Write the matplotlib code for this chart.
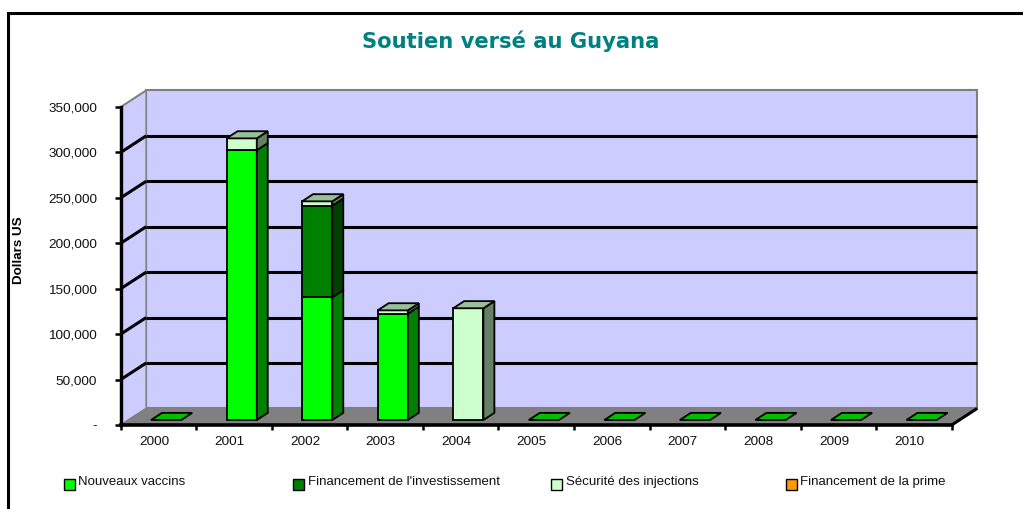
import matplotlib
matplotlib.use("Agg")
import matplotlib.pyplot as plt
from matplotlib.colors import to_rgb
from matplotlib.patches import Polygon, Rectangle
from matplotlib.transforms import Affine2D

plt.rcParams["font.family"] = ["Liberation Sans", "DejaVu Sans"]

years = ["2000", "2001", "2002", "2003", "2004", "2005", "2006", "2007", "2008", "2009", "2010"]
nouveaux_vaccins = [0, 297000, 135000, 117000, 0, 0, 0, 0, 0, 0, 0]
investissement = [0, 0, 101000, 0, 0, 0, 0, 0, 0, 0, 0]
securite_injections = [0, 13000, 4700, 3700, 123000, 0, 0, 0, 0, 0, 0]
prime = [0, 0, 0, 0, 0, 0, 0, 0, 0, 0, 0]
y_ticks = [0, 50000, 100000, 150000, 200000, 250000, 300000, 350000]
y_labels = ["-", "50,000", "100,000", "150,000", "200,000", "250,000", "300,000", "350,000"]
series = [
    ("Nouveaux vaccins", nouveaux_vaccins, "#00FF00", 64),
    ("Financement de l'investissement", investissement, "#008000", 293),
    ("Sécurité des injections", securite_injections, "#CCFFCC", 551),
    ("Financement de la prime", prime, "#FF9900", 786),
]

W, H = 1023, 509
DEPTH_X, DEPTH_Y = 25.5, 16.6
BAR_FRONT, BAR_BACK = 0.3, 0.73
BAR_WIDTH = 0.4
WALL = "#CCCCFF"
FLOOR = "#808080"
EDGE = "#808080"
TEXT = "#111111"
TICK_SIZE = 9.7

fig = plt.figure(figsize=(W / 100, H / 100), dpi=100)
ax = fig.add_axes([120.7 / W, (H - 425) / H, 831 / W, 318 / H])
ax.set_xlim(0, len(years))
ax.set_ylim(0, 350000)
ax.patch.set_visible(False)
for spine in ax.spines.values():
    spine.set_visible(False)


def depth(f):
    # pushes data coordinates back into the fake 3d depth, in pixels
    return ax.transData + Affine2D().translate(f * DEPTH_X, f * DEPTH_Y)


def quad(x0, x1, y0, y1, f0, f1, color, z, ec="black", lw=1.2):
    # corners go through the data scale, each at its own depth
    tr0, tr1 = depth(f0), depth(f1)
    pts = [tr0.transform((x0, y0)), tr0.transform((x1, y1)), tr1.transform((x1, y1)), tr1.transform((x0, y0))]
    ax.add_patch(Polygon(pts, closed=True, transform=None, fc=color, ec=ec, lw=lw, zorder=z, clip_on=False))


def shade(color, k):
    return tuple(c * k for c in to_rgb(color))


n = len(years)
top = y_ticks[-1]

# walls and floor
ax.add_patch(Rectangle((0, 0), n, top, transform=depth(1), fc=WALL, ec=EDGE, lw=1.5, zorder=1, clip_on=False))
quad(0, 0, 0, top, 0, 1, WALL, 1, ec=EDGE, lw=1.2)
quad(0, n, 0, 0, 0, 1, FLOOR, 2, ec=EDGE, lw=1.0)

# grid on the back wall and on the side wall
for v in y_ticks[1:-1]:
    ax.plot([0, n], [v, v], transform=depth(1), color="black", lw=2.2, zorder=3, clip_on=False, solid_capstyle="butt")
    quad(0, 0, v, v, 0, 1, "none", 3, lw=2.2)

# bars
for i in range(n):
    x0 = i + 0.5 - BAR_WIDTH / 2
    x1 = x0 + BAR_WIDTH
    base = 0
    last_color = series[0][2]
    z = 5 + i
    for name, values, color, _ in series:
        v = values[i]
        if v == 0:
            continue
        ax.add_patch(Rectangle((x0, base), BAR_WIDTH, v, transform=depth(BAR_FRONT), fc=color, ec="black", lw=1.3, zorder=z, clip_on=False))
        side = Polygon([depth(BAR_FRONT).transform((x1, base)), depth(BAR_FRONT).transform((x1, base + v)),
                        depth(BAR_BACK).transform((x1, base + v)), depth(BAR_BACK).transform((x1, base))],
                       closed=True, transform=None, fc=shade(color, 0.5), ec="black", lw=1.3, zorder=z, clip_on=False)
        ax.add_patch(side)
        base += v
        last_color = color
    # top face, also the flat marker for empty years
    quad(x0, x1, base, base, BAR_FRONT, BAR_BACK, shade(last_color, 0.75), z + 0.5, lw=1.3)

# front axis lines, drawn over the floor
ax.plot([0, 0], [0, top], color="black", lw=2.4, zorder=20, clip_on=False, solid_capstyle="projecting")
ax.plot([0, n], [0, 0], color="black", lw=2.6, zorder=20, clip_on=False, solid_capstyle="projecting")
quad(n, n, 0, 0, 0, 1, "none", 20, lw=2.2)
quad(0, 0, top, top, 0, 1, "none", 4, ec=EDGE, lw=1.2)

ax.set_xticks(range(n + 1))
ax.set_xticklabels([""] * (n + 1))
ax.set_xticks([i + 0.5 for i in range(n)], minor=True)
ax.set_xticklabels(years, minor=True, fontsize=TICK_SIZE, color=TEXT)
ax.tick_params(axis="x", which="major", length=3.5, width=1.8, color="black")
ax.tick_params(axis="x", which="minor", length=0, pad=8)
# year labels sit a little left of the category centres in the original
for label in ax.get_xticklabels(minor=True):
    label.set_transform(label.get_transform() + Affine2D().translate(-4.5, 0))
ax.set_yticks(y_ticks)
ax.set_yticklabels(y_labels, fontsize=TICK_SIZE, color=TEXT)
ax.tick_params(axis="y", length=4, width=1.8, color="black", pad=13)

fig.text(19.5 / W, 1 - 250.5 / H, "Dollars US", rotation=90, fontsize=9.6, fontweight="bold", ha="center", va="center")
fig.text(510.5 / W, 1 - 41 / H, "Soutien versé au Guyana", fontsize=15.2, fontweight="bold", family="DejaVu Sans",
         color="#008080", ha="center", va="center")

# legend, entries are unevenly spaced in the original
for name, values, color, left in series:
    fig.add_artist(Rectangle((left / W, 1 - 489.5 / H), 11 / W, 10.5 / H, transform=fig.transFigure, fc=color, ec="black", lw=1.0))
    fig.text((left + 14.5) / W, 1 - 482 / H, name, fontsize=9.55, color=TEXT, ha="left", va="center")

# frame, open at the bottom and on the right
fig.add_artist(plt.Line2D([7.5 / W, 7.5 / W, 1], [0, 1 - 12.5 / H, 1 - 12.5 / H], transform=fig.transFigure, color="black", lw=2.2, solid_joinstyle="miter"))

fig.savefig("out.png", dpi=100)
